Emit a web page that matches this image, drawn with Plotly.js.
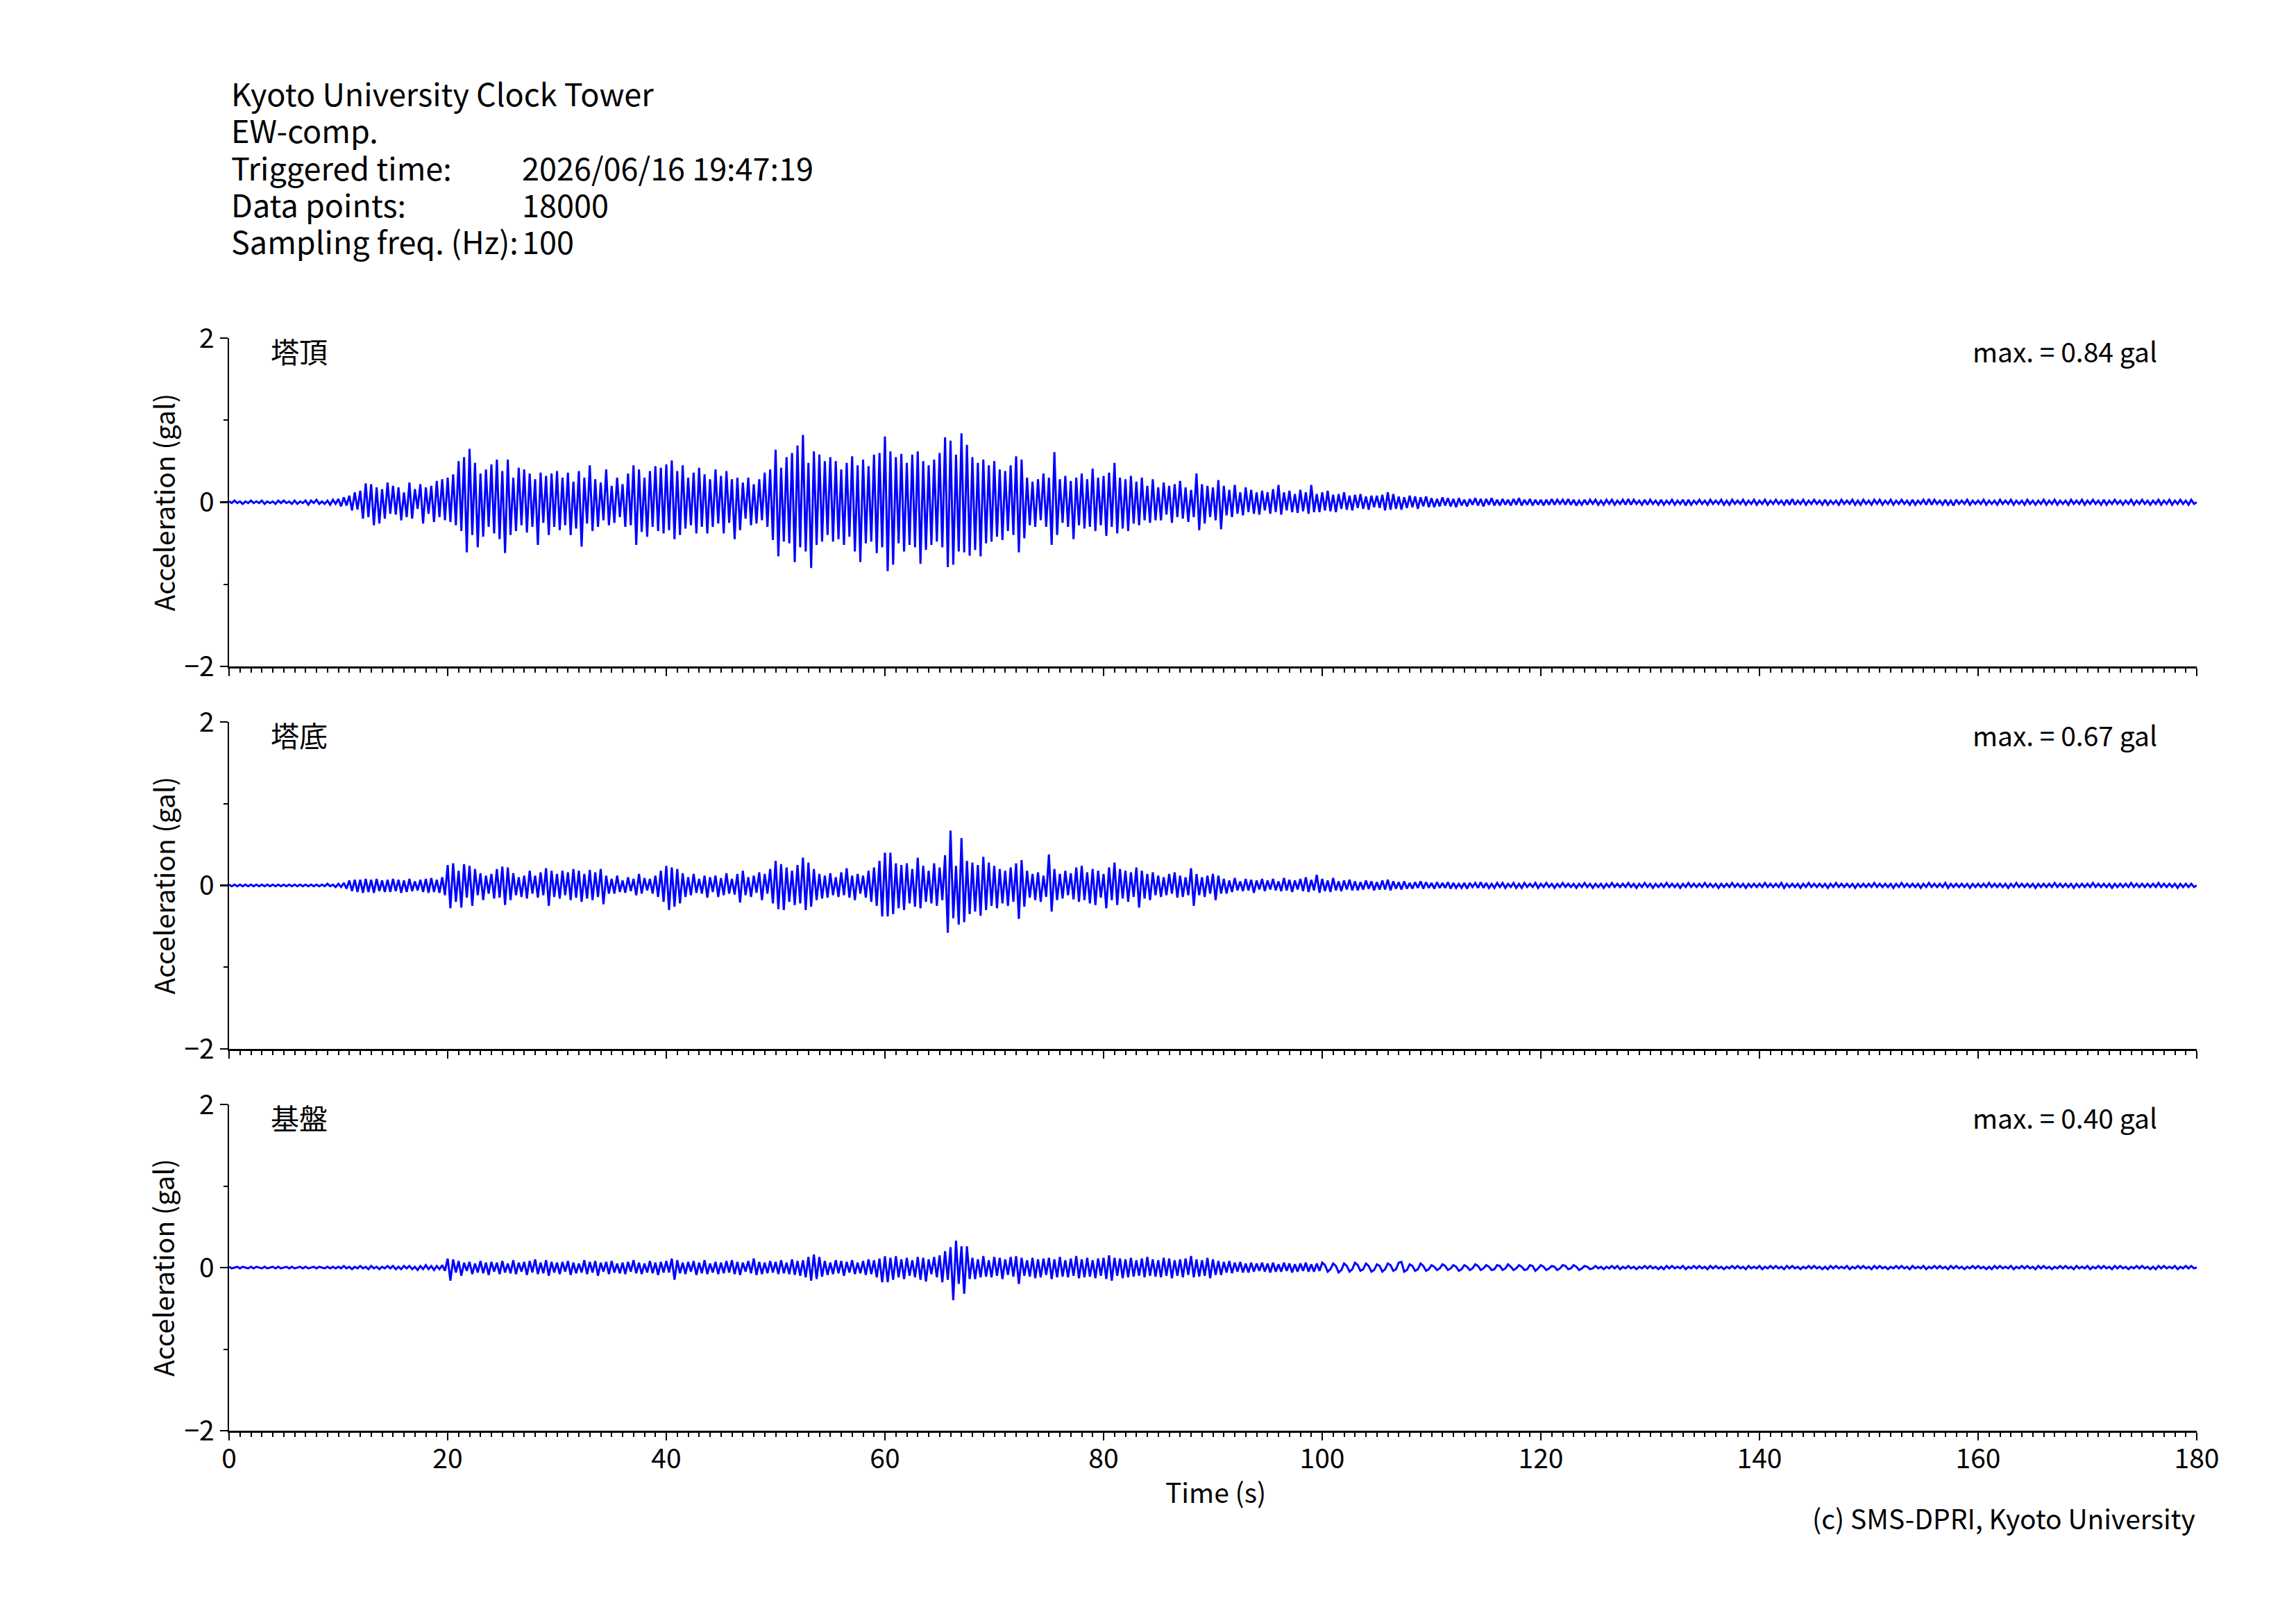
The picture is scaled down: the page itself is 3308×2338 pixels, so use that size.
<!DOCTYPE html>
<html>
<head>
<meta charset="utf-8">
<script src="https://cdn.plot.ly/plotly-3.0.1.min.js"></script>
<style>
  html, body { margin: 0; padding: 0; background: #fff; }
  #chart { width: 3308px; height: 2338px; }
</style>
</head>
<body>
<div id="chart"></div>
<script>
// Seismograms, EW component, read off the record as peaks every 0.25 s
// values in 1/100 gal
const STEP = 0.25;
const stationNames = ['塔頂', '塔底', '基盤'];
const maxLabels = ['max. = 0.84 gal', 'max. = 0.67 gal', 'max. = 0.40 gal'];
const xTicks = [0, 20, 40, 60, 80, 100, 120, 140, 160, 180];
const yTicks = [-2, 0, 2];

const headerLabels = ['Kyoto University Clock Tower', 'EW-comp.', 'Triggered time:', 'Data points:', 'Sampling freq. (Hz):'];
const headerValues = ['', '', '2026/06/16 19:47:19', '18000', '100'];

const topAcc = [
  1,-1,2,-1, 1,-2,1,-1, 2,-1,1,-1, 2,-2,1,-1, 1,-2,2,-1,
  2,-1,1,-2, 2,-2,1,-1, 2,-3,2,-1, 3,-2,1,-2, 2,-3,3,-2,
  4,-5,6,-4, 8,-10,12,-9, 14,-20,23,-18, 22,-28,18,-26, 16,-20,24,-14,
  20,-15,18,-22, 12,-18,24,-20, 16,-8,22,-26, 18,-14,20,-24, 26,-18,28,-22,
  30,-24,34,-28, 50,-35,55,-61, 65,-40,48,-55, 35,-42,40,-30, 46,-38,52,-45,
  38,-62,52,-40, 30,-35,42,-28, 40,-37,35,-30, 28,-52,36,-25, 32,-40,35,-30,
  38,-34,30,-28, 36,-40,25,-32, 38,-54,30,-26, 45,-35,28,-30, 24,-22,40,-28,
  20,-25,30,-18, 22,-30,35,-28, 45,-52,40,-36, 30,-42,38,-30, 44,-35,42,-38,
  46,-34,51,-45, 38,-40,45,-32, 30,-28,36,-38, 42,-30,34,-38, 28,-30,40,-26,
  32,-38,38,-25, 28,-45,30,-34, 24,-20,30,-28, 22,-26,28,-22, 36,-30,40,-46,
  64,-66,42,-48, 55,-50,60,-73, 69,-55,82,-60, 48,-80,62,-52, 58,-48,50,-40,
  55,-48,50,-45, 40,-52,48,-42, 56,-60,45,-73, 52,-50,44,-48, 58,-62,60,-55,
  80,-84,62,-76, 55,-50,59,-60, 48,-52,58,-55, 62,-75,50,-58, 45,-52,52,-48,
  60,-55,79,-79, 75,-76,58,-60, 84,-61,70,-65, 55,-58,48,-66, 52,-50,45,-48,
  50,-42,40,-46, 38,-35,45,-40, 56,-61,52,-44, 30,-28,25,-30, 28,-22,35,-30,
  30,-52,61,-40, 28,-25,32,-30, 26,-45,30,-28, 35,-32,28,-30, 41,-35,30,-28,
  32,-41,36,-30, 48,-38,30,-32, 28,-35,32,-26, 25,-28,30,-22, 20,-25,28,-22,
  18,-22,24,-15, 20,-25,22,-18, 26,-20,18,-24, 15,-18,35,-34, 22,-26,20,-18,
  18,-22,27,-33, 20,-16,15,-18, 21,-14,12,-16, 18,-12,15,-14, 12,-15,14,-10,
  12,-14,16,-12, 21,-15,12,-10, 14,-12,10,-13, 15,-11,12,-14, 21,-12,10,-12,
  12,-10,14,-11, 9,-12,10,-8, 12,-9,8,-10, 9,-7,10,-8, 7,-9,8,-6,
  8,-7,9,-10, 12,-9,10,-8, 7,-9,6,-7, 8,-6,7,-8, 6,-5,7,-6,
  5,-6,4,-5, 6,-4,5,-5, 4,-6,5,-4, 3,-5,4,-3, 5,-4,4,-5,
  4,-3,5,-4, 3,-4,4,-3, 3,-4,4,-3, 5,-4,3,-3, 4,-4,3,-3,
  3,-4,3,-3, 4,-3,3,-2, 3,-3,4,-3, 3,-4,2,-3, 3,-3,3,-2,
  3,-3,2,-3, 3,-2,3,-3, 2,-2,3,-3, 4,-3,3,-2, 2,-3,3,-3,
  3,-2,2,-3, 3,-3,2,-2, 3,-3,2,-2, 3,-4,3,-3, 2,-2,3,-2,
  2,-3,3,-2, 2,-2,3,-3, 2,-3,3,-2, 2,-2,3,-3, 2,-2,3,-3,
  2,-2,3,-3, 2,-2,3,-2, 2,-3,3,-3, 4,-3,2,-2, 3,-3,2,-2,
  3,-2,2,-3, 3,-3,2,-2, 2,-3,3,-2, 2,-2,3,-3, 2,-3,3,-2,
  2,-3,3,-2, 3,-3,2,-2, 3,-3,2,-2, 3,-2,2,-3, 3,-3,2,-2,
  3,-3,4,-3, 3,-2,2,-3, 3,-3,2,-4, 3,-2,2,-2, 3,-3,2,-2,
  2,-2,3,-3, 2,-2,2,-3, 3,-2,2,-2, 3,-3,2,-2, 2,-3,3,-2,
  2,-3,2,-2, 3,-3,2,-2, 3,-3,2,-2, 2,-3,3,-2, 2,-2,3,-3,
  2,-2,3,-2, 2,-3,3,-3, 2,-2,3,-2, 2,-3,2,-2, 3,-3,2,-2,
  3,-2,2,-3, 2,-2,3,-3, 2,-2,3,-3, 2,-2,3,-2, 2,-3,3,-2,
  0
];

const baseAcc = [
  1,-1,1,-1, 1,-1,1,-1, 1,-1,1,-1, 1,-1,1,-1, 1,-1,1,-1,
  1,-1,1,-1, 1,-1,1,-1, 1,-1,1,-1, 1,-1,1,-1, 2,-1,1,-2,
  2,-2,3,-4, 6,-7,7,-8, 7,-9,8,-8, 7,-9,8,-7, 6,-8,7,-8,
  8,-7,7,-9, 6,-8,8,-7, 5,-6,7,-8, 8,-9,9,-8, 7,-9,10,-12,
  25,-28,27,-20, 18,-27,26,-15, 24,-25,20,-12, 15,-18,12,-10, 14,-16,20,-15,
  23,-24,22,-18, 15,-12,10,-14, 12,-16,18,-10, 12,-15,16,-12, 21,-25,18,-14,
  14,-16,18,-12, 16,-18,20,-15, 18,-20,14,-16, 19,-18,16,-14, 20,-23,12,-10,
  8,-10,12,-8, 6,-9,10,-7, 8,-12,14,-10, 9,-6,8,-10, 12,-14,18,-20,
  24,-30,22,-26, 20,-22,15,-14, 10,-12,14,-9, 8,-10,12,-15, 10,-8,12,-14,
  9,-12,15,-10, 8,-11,14,-21, 18,-12,10,-14, 12,-9,16,-18, 14,-10,20,-22,
  30,-29,26,-30, 22,-20,18,-24, 25,-22,34,-30, 28,-26,20,-18, 14,-16,12,-15,
  15,-12,10,-14, 16,-12,21,-15, 12,-18,14,-10, 12,-15,18,-20, 22,-25,30,-38,
  40,-38,40,-35, 27,-28,25,-30, 27,-22,20,-26, 34,-28,24,-20, 18,-22,27,-25,
  22,-18,37,-58, 67,-40,24,-48, 58,-45,30,-35, 28,-32,25,-37, 35,-30,28,-25,
  24,-28,20,-22, 18,-25,22,-20, 27,-41,31,-26, 18,-15,14,-18, 16,-20,12,-14,
  38,-32,20,-18, 14,-16,18,-12, 15,-17,22,-20, 24,-18,16,-22, 20,-24,18,-15,
  14,-28,22,-18, 28,-24,20,-16, 18,-20,16,-14, 22,-27,18,-16, 14,-18,16,-12,
  12,-14,10,-12, 14,-10,16,-15, 12,-14,10,-12, 21,-25,14,-12, 10,-14,12,-10,
  14,-18,12,-10, 8,-10,6,-8, 9,-6,5,-7, 8,-6,7,-9, 6,-5,8,-7,
  6,-5,8,-6, 5,-7,9,-6, 7,-8,6,-5, 8,-7,10,-8, 7,-6,13,-9,
  8,-7,6,-8, 9,-6,5,-7, 6,-5,7,-6, 5,-6,4,-5, 6,-4,5,-6,
  4,-5,6,-5, 7,-6,5,-4, 4,-5,5,-4, 3,-4,4,-3, 5,-4,4,-3,
  3,-4,4,-3, 3,-3,4,-4, 3,-3,2,-3, 3,-4,3,-2, 3,-3,4,-3,
  3,-3,2,-3, 3,-2,3,-3, 2,-2,3,-3, 2,-3,3,-2, 2,-2,3,-3,
  2,-2,3,-2, 2,-3,2,-2, 3,-2,2,-2, 2,-3,2,-2, 3,-2,2,-3,
  2,-2,2,-3, 2,-2,3,-2, 2,-2,2,-2, 3,-2,2,-3, 2,-2,3,-2,
  2,-3,2,-2, 2,-2,3,-2, 2,-2,2,-3, 2,-2,3,-2, 2,-2,2,-2,
  3,-2,2,-2, 2,-3,2,-2, 2,-2,3,-2, 2,-2,2,-3, 2,-2,2,-2,
  2,-2,3,-2, 2,-2,2,-2, 3,-3,2,-2, 2,-2,2,-3, 2,-2,3,-2,
  2,-2,2,-2, 2,-3,2,-2, 3,-2,2,-2, 2,-2,2,-3, 2,-2,2,-2,
  2,-2,3,-2, 2,-2,2,-2, 2,-3,2,-2, 3,-2,2,-2, 2,-2,2,-3,
  2,-2,3,-2, 2,-2,2,-2, 3,-3,2,-2, 2,-2,2,-2, 2,-3,2,-2,
  2,-2,2,-2, 3,-2,2,-2, 2,-2,2,-3, 2,-2,3,-2, 2,-2,2,-2,
  2,-3,2,-2, 2,-2,2,-2, 3,-2,2,-2, 2,-2,2,-3, 2,-2,2,-2,
  2,-2,3,-2, 2,-2,2,-2, 2,-3,2,-2, 2,-2,2,-2, 3,-2,2,-2,
  2,-2,2,-2, 2,-2,3,-2, 2,-2,2,-2, 2,-3,2,-2, 2,-2,2,-2,
  0
];

const groundAcc = [
  1,-1,0,1, -1,1,0,-1, 1,-1,1,0, -1,1,-1,0, 1,-1,1,-1,
  0,1,-1,1, -1,0,1,-1, 1,-1,0,1, -1,1,0,-1, 1,-1,1,-1,
  1,-1,2,-1, 1,-2,1,-1, 2,-1,1,-2, 2,-1,1,-2, 1,-1,2,-1,
  2,-2,1,-2, 2,-1,2,-2, 1,-3,2,-2, 3,-2,2,-3, 2,-2,3,-4,
  11,-16,10,-6, 8,-10,6,-4, 7,-8,5,-6, 8,-7,6,-9, 7,-5,6,-8,
  8,-6,5,-7, 9,-8,6,-5, 7,-9,8,-6, 10,-8,6,-7, 9,-10,7,-6,
  6,-8,7,-5, 8,-9,6,-7, 5,-6,9,-8, 7,-6,8,-10, 6,-5,7,-8,
  8,-6,5,-7, 6,-8,7,-5, 9,-7,6,-8, 5,-6,8,-7, 6,-9,7,-6,
  8,-6,11,-15, 9,-7,6,-8, 7,-5,8,-9, 6,-7,9,-8, 5,-6,7,-8,
  6,-7,8,-6, 9,-8,7,-9, 6,-5,8,-7, 11,-9,7,-8, 6,-7,8,-6,
  7,-8,9,-7, 6,-8,10,-9, 8,-10,9,-12, 13,-16,16,-14, 13,-11,8,-9,
  6,-8,9,-7, 8,-10,7,-6, 9,-8,6,-7, 8,-9,10,-8, 9,-12,11,-18,
  14,-18,12,-15, 14,-12,10,-14, 12,-10,9,-12, 13,-15,12,-17, 10,-8,13,-12,
  15,-18,20,-15, 25,-40,33,-20, 26,-32,26,-14, 12,-14,10,-12, 14,-11,9,-12,
  13,-10,12,-14, 10,-9,13,-11, 14,-20,12,-10, 9,-11,12,-13, 10,-12,11,-9,
  12,-14,10,-12, 13,-11,9,-12, 11,-10,14,-13, 10,-12,12,-11, 9,-13,11,-10,
  12,-14,15,-16, 12,-10,11,-13, 10,-12,12,-11, 9,-10,11,-12, 13,-10,10,-11,
  9,-12,12,-10, 11,-13,9,-10, 10,-12,11,-9, 14,-12,10,-11, 9,-10,12,-13,
  10,-9,8,-9, 7,-6,8,-7, 6,-5,7,-6, 5,-6,6,-5, 5,-4,6,-5,
  5,-6,6,-5, 4,-5,6,-4, 5,-6,4,-5, 5,-4,6,-5, 4,-5,5,-4,
  6,3,-5,-2, 5,2,-6,-3, 5,2,-5,-2, 6,3,-4,-2, 5,2,-5,-3,
  4,2,-5,-2, 5,3,-4,-2, 6,7,-5,-3, 4,2,-4,-2, 5,2,-4,-2,
  3,1,-3,-1, 4,2,-3,-1, 3,1,-4,-2, 3,1,-3,-1, 4,2,-3,-1,
  3,1,-3,-2, 3,2,-3,-1, 4,1,-3,-1, 3,1,-3,-2, 3,2,-4,-1,
  3,1,-3,-1, 2,1,-3,-1, 3,2,-2,-1, 3,1,-3,-1, 2,1,-2,-1,
  2,-1,1,-2, 1,-1,2,-1, 2,-2,1,-1, 2,-1,1,-2, 1,-1,2,-1,
  2,-1,1,-2, 1,-2,2,-1, 2,-1,1,-1, 2,-2,1,-1, 2,-1,2,-1,
  1,-2,2,-1, 2,-1,1,-2, 1,-1,2,-1, 2,-1,1,-2, 2,-1,1,-1,
  2,-2,1,-1, 2,-1,2,-1, 1,-2,2,-1, 2,-1,1,-2, 1,-1,2,-1,
  2,-1,1,-2, 1,-2,2,-1, 2,-1,1,-1, 2,-2,1,-1, 2,-1,2,-1,
  1,-2,2,-1, 2,-1,1,-2, 1,-1,2,-1, 2,-1,1,-2, 2,-1,1,-1,
  2,-2,1,-1, 2,-1,2,-1, 1,-2,2,-1, 2,-1,1,-2, 1,-1,2,-1,
  2,-1,1,-2, 1,-2,2,-1, 2,-1,1,-1, 2,-2,1,-1, 2,-1,2,-1,
  1,-2,2,-1, 2,-1,1,-2, 1,-1,2,-1, 2,-1,1,-2, 2,-1,1,-1,
  2,-2,1,-1, 2,-1,2,-1, 1,-2,2,-1, 2,-1,1,-2, 1,-1,2,-1,
  2,-1,1,-2, 1,-2,2,-1, 2,-1,1,-1, 2,-2,1,-1, 2,-1,2,-1,
  0
];

const series = [topAcc, baseAcc, groundAcc];

// page geometry (px)
const W = 3308, H = 2338;
const X0 = 330, X1 = 3165;
const panelTop = [487, 1040, 1591];
const panelBottom = [960, 1511, 2061];
const FONT = '"Noto Sans CJK JP", "Noto Sans", sans-serif';
const SIZE = 39, HEAD_SIZE = 45;
const px = x => x / W;
const py = y => 1 - y / H;

const traces = [];
const layout = {
  width: W, height: H,
  margin: { l: 0, r: 0, t: 0, b: 0 },
  paper_bgcolor: '#fff', plot_bgcolor: '#fff',
  showlegend: false, hovermode: false,
  font: { family: FONT, size: SIZE, color: '#000' },
  annotations: []
};

series.forEach((vals, i) => {
  const sfx = i === 0 ? '' : String(i + 1);
  traces.push({
    x: vals.map((_, k) => k * STEP),
    y: vals.map(v => v / 100),
    xaxis: 'x' + sfx, yaxis: 'y' + sfx,
    type: 'scatter', mode: 'lines',
    line: { color: '#0000ff', width: 3 }
  });

  layout['xaxis' + sfx] = {
    domain: [px(X0), px(X1)], anchor: 'y' + sfx,
    range: [0, 180], tickmode: 'array', tickvals: xTicks,
    showticklabels: i === 2, ticklabelstandoff: -6,
    ticks: 'outside', ticklen: 11, tickwidth: 2.5, tickcolor: '#000',
    minor: { dtick: 1, tick0: 0, ticks: 'outside', ticklen: 6, tickwidth: 2, tickcolor: '#000' },
    showline: true, linecolor: '#000', linewidth: 2.5,
    showgrid: false, zeroline: false, fixedrange: true,
    tickfont: { family: FONT, size: SIZE, color: '#000' }
  };
  layout['yaxis' + sfx] = {
    domain: [py(panelBottom[i]), py(panelTop[i])], anchor: 'x' + sfx,
    range: [-2, 2], tickmode: 'array', tickvals: yTicks,
    ticks: 'outside', ticklen: 11, tickwidth: 2.5, tickcolor: '#000',
    minor: { dtick: 1, tick0: 0, ticks: 'outside', ticklen: 6, tickwidth: 2, tickcolor: '#000' },
    showline: true, linecolor: '#000', linewidth: 2.5,
    showgrid: false, zeroline: false, fixedrange: true,
    tickfont: { family: FONT, size: SIZE, color: '#000' }
  };

  const mid = (panelTop[i] + panelBottom[i]) / 2;
  layout.annotations.push(
    { text: 'Acceleration (gal)', xref: 'paper', yref: 'paper', x: px(234), y: py(mid),
      xanchor: 'center', yanchor: 'middle', textangle: -90, showarrow: false,
      font: { family: FONT, size: SIZE, color: '#000' } },
    { text: stationNames[i], xref: 'paper', yref: 'paper', x: px(388), y: py(panelTop[i] + 18),
      xanchor: 'left', yanchor: 'middle', showarrow: false,
      font: { family: FONT, size: SIZE + 2, color: '#000' } },
    { text: maxLabels[i], xref: 'paper', yref: 'paper', x: px(3110), y: py(panelTop[i] + 18),
      xanchor: 'right', yanchor: 'middle', showarrow: false,
      font: { family: FONT, size: SIZE, color: '#000' } }
  );
});

// header block
const headerY = [134, 187, 240, 293, 347];
headerLabels.forEach((txt, k) => {
  layout.annotations.push({ text: txt, xref: 'paper', yref: 'paper', x: px(331), y: py(headerY[k]),
    xanchor: 'left', yanchor: 'middle', showarrow: false,
    font: { family: FONT, size: HEAD_SIZE, color: '#000' } });
  if (headerValues[k]) {
    layout.annotations.push({ text: headerValues[k], xref: 'paper', yref: 'paper', x: px(750), y: py(headerY[k]),
      xanchor: 'left', yanchor: 'middle', showarrow: false,
      font: { family: FONT, size: HEAD_SIZE, color: '#000' } });
  }
});

layout.annotations.push(
  { text: 'Time (s)', xref: 'paper', yref: 'paper', x: px(1751), y: py(2148),
    xanchor: 'center', yanchor: 'middle', showarrow: false,
    font: { family: FONT, size: SIZE, color: '#000' } },
  { text: '(c) SMS-DPRI, Kyoto University', xref: 'paper', yref: 'paper', x: px(3165), y: py(2186),
    xanchor: 'right', yanchor: 'middle', showarrow: false,
    font: { family: FONT, size: SIZE, color: '#000' } }
);

Plotly.newPlot('chart', traces, layout, { displayModeBar: false, staticPlot: true });
</script>
</body>
</html>
